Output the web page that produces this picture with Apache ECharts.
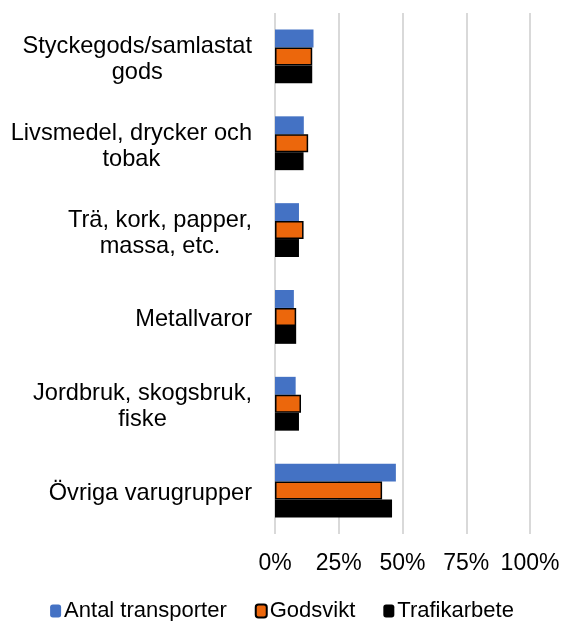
<!DOCTYPE html>
<html>
<head>
<meta charset="utf-8">
<script src="https://cdn.jsdelivr.net/npm/echarts@6/dist/echarts.min.js"></script>
<style>
    html, body { margin: 0; padding: 0; background: #fff; }
    #chart { width: 564px; height: 621px; }
</style>
</head>
<body>
<div id="chart"></div>
<script>
const categories = [
    'Styckegods/samlastat\ngods',
    'Livsmedel, drycker och\ntobak',
    'Trä, kork, papper,\nmassa, etc.',
    'Metallvaror',
    'Jordbruk, skogsbruk,\nfiske',
    'Övriga varugrupper'
];
const antalTransporter = [15.1, 11.3, 9.4, 7.4, 8.1, 47.4];
const godsvikt = [14.6, 13.0, 11.2, 8.3, 10.2, 42.0];
const trafikarbete = [14.6, 11.2, 9.4, 8.3, 9.4, 45.9];
const tickLabels = ['0%', '25%', '50%', '75%', '100%'];

const FONT = '"Liberation Sans", Arial, sans-serif';

const chart = echarts.init(document.getElementById('chart'));

const option = {
    backgroundColor: '#ffffff',
    animation: false,
    textStyle: { fontFamily: FONT, color: '#000' },
    grid: {
        left: 275,
        right: 34,
        top: 13,
        bottom: 87
    },
    legend: {
        bottom: -6,
        left: 'center',
        itemWidth: 11,
        itemHeight: 13,
        itemGap: 28,
        textStyle: { fontSize: 22, color: '#000', fontFamily: FONT, padding: [0, 0, 0, -2] },
        data: ['Antal transporter', 'Godsvikt', 'Trafikarbete']
    },
    xAxis: {
        type: 'value',
        min: 0,
        max: 100,
        interval: 25,
        axisLine: { show: false },
        axisTick: { show: false },
        splitLine: { lineStyle: { color: '#d9d9d9', width: 2 } },
        axisLabel: {
            fontSize: 23,
            color: '#000',
            margin: 18,
            formatter: (v) => tickLabels[Math.round(v / 25)]
        }
    },
    yAxis: {
        type: 'category',
        inverse: true,
        data: categories,
        axisLine: { show: false },
        axisTick: { show: false },
        axisLabel: {
            margin: 23,
            align: 'right',
            padding: [6, 0, 0, 0],
            formatter: (v) => v.split('\n').map(s => '{c|' + s + '}').join('\n'),
            rich: {
                c: { align: 'center', fontSize: 23.6, lineHeight: 26, color: '#000', fontFamily: FONT }
            }
        }
    },
    series: [
        {
            name: 'Antal transporter',
            type: 'bar',
            data: antalTransporter,
            barGap: '0%',
            barCategoryGap: '38%',
            itemStyle: { color: '#4472C4' }
        },
        {
            name: 'Godsvikt',
            type: 'bar',
            data: godsvikt,
            itemStyle: { color: '#EC670C', borderColor: '#000', borderWidth: 1.5 }
        },
        {
            name: 'Trafikarbete',
            type: 'bar',
            data: trafikarbete,
            itemStyle: { color: '#000000' }
        }
    ]
};

chart.setOption(option);
</script>
</body>
</html>
